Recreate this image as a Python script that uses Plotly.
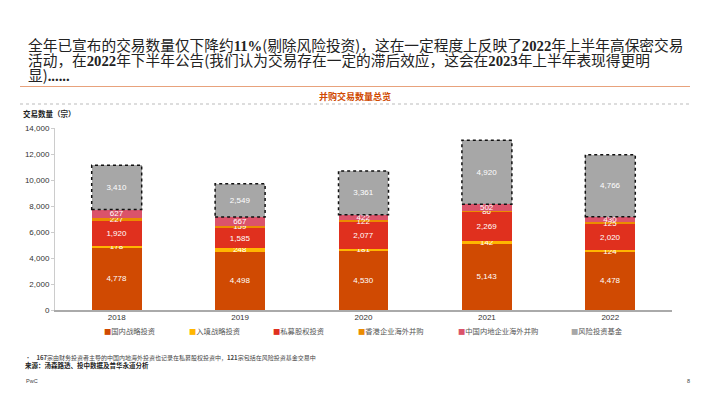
import plotly.graph_objects as go

years = ["2018", "2019", "2020", "2021", "2022"]
series_names = ["国内战略投资", "入境战略投资", "私募股权投资", "香港企业海外并购", "中国内地企业海外并购", "风险投资基金"]
domestic = [4778, 4498, 4530, 5143, 4478]
inbound = [178, 248, 181, 142, 124]
private_equity = [1920, 1585, 2077, 2269, 2020]
hk_outbound = [227, 159, 122, 86, 125]
mainland_outbound = [627, 667, 422, 502, 430]
venture = [3410, 2549, 3361, 4920, 4766]
y_ticks = [0, 2000, 4000, 6000, 8000, 10000, 12000, 14000]

colors = ["#D04A02", "#FFB600", "#E0301E", "#EB8C00", "#DB536A", "#A7A7A7"]
all_series = [domestic, inbound, private_equity, hk_outbound, mainland_outbound, venture]

FONT = "Noto Sans CJK SC, Liberation Sans, Arial, sans-serif"
BAR_W = 0.405

fig = go.Figure()
for name, vals, col in zip(series_names, all_series, colors):
    fig.add_trace(go.Bar(
        x=years, y=vals, name=name,
        marker=dict(color=col, line=dict(width=0)),
        width=BAR_W,
        text=[f"{v:,}" for v in vals],
        textposition="inside",
        insidetextanchor="middle",
        textangle=0,
        textfont=dict(color="white", size=8, family="Liberation Sans, Arial"),
        showlegend=False,
    ))

# dotted border around venture segments (derived from data)
for i in range(len(years)):
    base = sum(s[i] for s in all_series[:-1])
    top = base + venture[i]
    fig.add_shape(type="rect", xref="x", yref="y",
                  x0=i - BAR_W / 2, x1=i + BAR_W / 2, y0=base, y1=top,
                  line=dict(color="#111111", width=1.5, dash="dot"))

# page body has an 8px default margin; compensate so positions match the screen
OFF = 8
W, H = 710, 399
PL, PR, PT, PB = 55, 672, 128, 310  # target screen pixels of plot area
L = PL - OFF
R = W - (PR - OFF)
T = PT - OFF
B = H - (PB - OFF)
PW = PR - PL
PH = PB - PT

def px(x):
    return (x - PL) / PW

def py(y):
    return (PB - y) / PH

def num(s):
    return f"<span style=\"font-family:'Liberation Serif', 'DejaVu Serif', serif\"><b>{s}</b></span>"

title_lines = [
    f"全年已宣布的交易数量仅下降约{num('11%')}(剔除风险投资)，这在一定程度上反映了{num('2022')}年上半年高保密交易",
    f"活动，在{num('2022')}年下半年公告(我们认为交易存在一定的滞后效应，这会在{num('2023')}年上半年表现得更明",
    f"显){num('......')}",
]
title_y = [44, 59.5, 74]

annotations = []
for line, yy in zip(title_lines, title_y):
    annotations.append(dict(text=line, xref="paper", yref="paper", x=px(26), y=py(yy),
                            xanchor="left", yanchor="middle", align="left", showarrow=False,
                            font=dict(size=14.7, color="#222222", family=FONT)))

annotations += [
    dict(text="<b>并购交易数量总览</b>", xref="paper", yref="paper", x=px(355), y=py(96.5),
         xanchor="center", yanchor="middle", showarrow=False,
         font=dict(size=9, color="#D04A02", family=FONT)),
    dict(text="<b>交易数量（宗）</b>", xref="paper", yref="paper", x=px(21), y=py(113),
         xanchor="left", yanchor="middle", showarrow=False,
         font=dict(size=7.5, color="#222222", family=FONT)),
    dict(text="•    <b>167</b>宗由财务投资者主导的中国内地海外投资也记录在私募股权投资中，<b>121</b>宗包括在风险投资基金交易中",
         xref="paper", yref="paper", x=px(23), y=py(357.5), xanchor="left", yanchor="middle", showarrow=False,
         font=dict(size=6, color="#444444", family=FONT)),
    dict(text="<b>来源：汤森路透、投中数据及普华永道分析</b>",
         xref="paper", yref="paper", x=px(23), y=py(364.5), xanchor="left", yanchor="middle", showarrow=False,
         font=dict(size=6.5, color="#222222", family=FONT)),
    dict(text="PwC", xref="paper", yref="paper", x=px(24), y=py(381), xanchor="left", yanchor="middle",
         showarrow=False, font=dict(size=5.5, color="#444444", family="Liberation Sans, Arial")),
    dict(text="8", xref="paper", yref="paper", x=px(692), y=py(381), xanchor="right", yanchor="middle",
         showarrow=False, font=dict(size=5.5, color="#444444", family="Liberation Sans, Arial")),
]

# legend built as annotations
legend_x = [102, 187, 271, 356, 456, 569]
for name, col, lx in zip(series_names, colors, legend_x):
    annotations.append(dict(
        text=f"<span style='color:{col}'>■</span>{name}",
        xref="paper", yref="paper", x=px(lx), y=py(331), xanchor="left", yanchor="middle",
        showarrow=False, font=dict(size=7.3, color="#555555", family=FONT)))

shapes_extra = [
    dict(type="line", xref="paper", yref="paper", x0=px(20), x1=px(690), y0=py(86.5), y1=py(86.5),
         line=dict(color="#E8A27C", width=1.2)),
    dict(type="line", xref="paper", yref="paper", x0=px(20), x1=px(690), y0=py(104), y1=py(104),
         line=dict(color="#BBBBBB", width=1, dash="dot")),
]
for s in shapes_extra:
    fig.add_shape(**s)

fig.update_layout(
    width=W, height=H,
    margin=dict(l=L, r=R, t=T, b=B, pad=0, autoexpand=False),
    barmode="stack",
    bargap=0.595,
    plot_bgcolor="white", paper_bgcolor="white",
    font=dict(family=FONT, size=8, color="#333333"),
    uniformtext=dict(minsize=8, mode="show"),
    showlegend=False,
    annotations=annotations,
    xaxis=dict(type="category", showgrid=False, showline=True, linecolor="#AAAAAA", linewidth=2,
               ticks="", ticklabelstandoff=-2,
               tickfont=dict(size=8, color="#333333", family="Liberation Sans, Arial")),
    yaxis=dict(range=[0, 14000], tickvals=y_ticks, tickformat=",d", showgrid=False,
               showline=True, linecolor="#CCCCCC", linewidth=1, ticks="outside", ticklen=3,
               tickcolor="#CCCCCC", zeroline=False,
               tickfont=dict(size=8, color="#333333", family="Liberation Sans, Arial")),
)

fig.write_html("out.html")
